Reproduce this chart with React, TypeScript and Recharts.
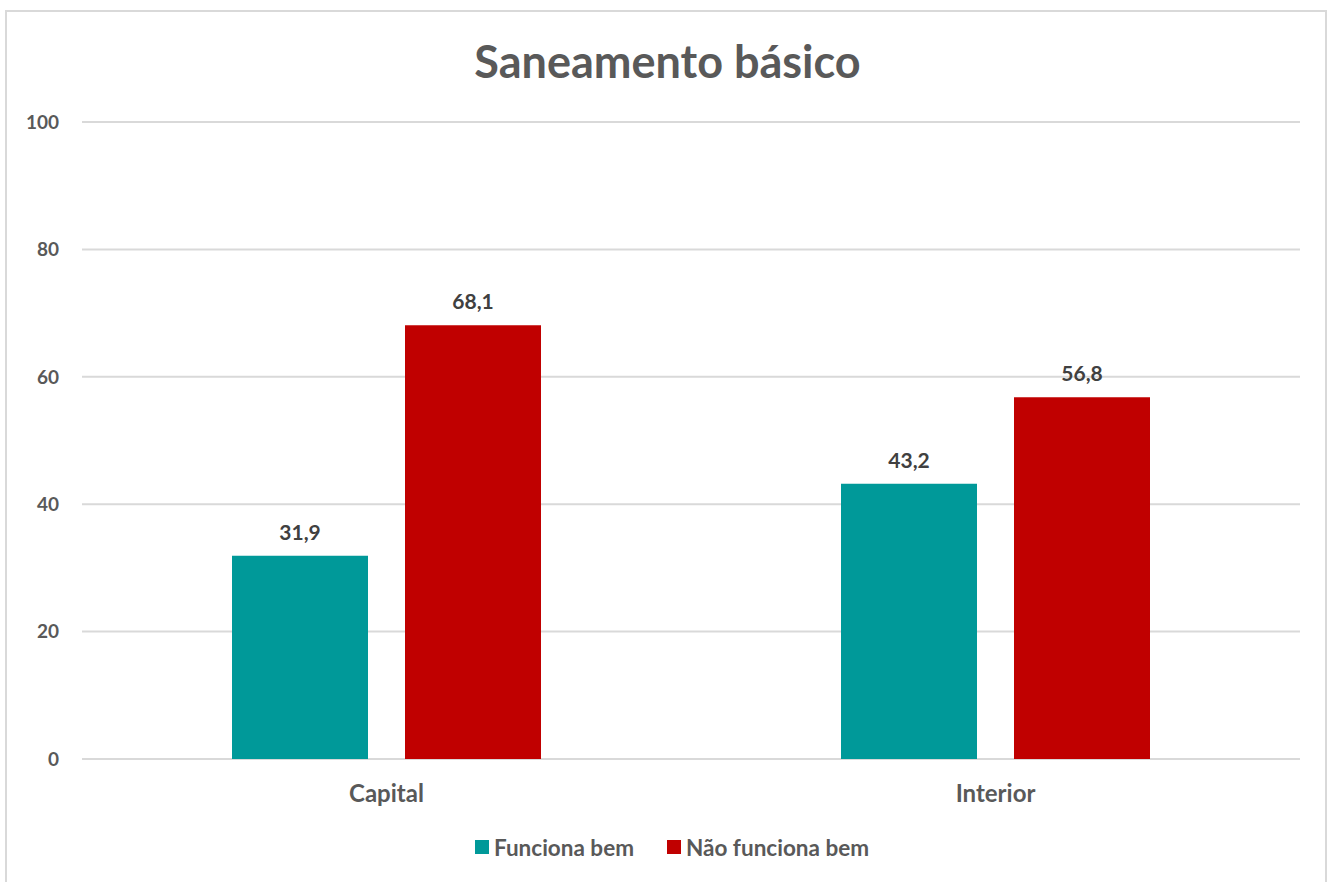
import React from 'react';
import { BarChart, Bar, XAxis, YAxis, CartesianGrid, Legend, LabelList } from 'recharts';

const categories = ['Capital', 'Interior'];
const funcionaBem = [31.9, 43.2];
const naoFuncionaBem = [68.1, 56.8];
const yTicks = [0, 20, 40, 60, 80, 100];
const seriesNames = ['Funciona bem', 'Não funciona bem'];
const seriesColors = ['#009999', '#c00000'];
const title = 'Saneamento básico';

const data = categories.map((c, i) => ({
  name: c,
  bem: funcionaBem[i],
  nao: naoFuncionaBem[i],
}));

const FONT = 'Lato, "Open Sans", sans-serif';
const TEXT = '#595959';
const fmt = (v: any) => Number(v).toFixed(1).replace('.', ',');

const LegendContent = (props: any) => {
  const payload = props.payload || [];
  return (
    <div style={{ display: 'flex', justifyContent: 'center', alignItems: 'center', gap: 33, fontFamily: FONT, fontSize: 22.5, fontWeight: 700, color: TEXT, height: 24 }}>
      {payload.map((p: any) => (
        <div key={p.value} style={{ display: 'flex', alignItems: 'center', gap: 5 }}>
          <span style={{ display: 'inline-block', width: 14, height: 14, background: p.color }} />
          <span>{p.value}</span>
        </div>
      ))}
    </div>
  );
};

export default function App() {
  return (
    <div style={{ position: 'absolute', left: 0, top: 0, width: 1335, height: 882, background: '#fff', overflow: 'hidden', fontFamily: FONT }}>
      <div style={{ position: 'absolute', left: 5, top: 10, width: 1322, height: 900, border: '2px solid #d9d9d9', boxSizing: 'border-box' }} />
      <div style={{ position: 'absolute', left: 0, top: 31, width: 1335, textAlign: 'center', fontSize: 45, fontWeight: 700, color: TEXT, lineHeight: '60px' }}>
        {title}
      </div>
      <div style={{ position: 'absolute', left: 0, top: 0 }}>
        <BarChart
          width={1335}
          height={882}
          data={data}
          margin={{ top: 122, right: 35, bottom: 0, left: 0 }}
          barGap={37}
          barCategoryGap={150}
        >
          <CartesianGrid vertical={false} stroke="#d9d9d9" strokeWidth={2} />
          <XAxis
            dataKey="name"
            axisLine={false}
            tickLine={false}
            height={99}
            tickMargin={20}
            tick={{ fill: TEXT, fontSize: 24, fontWeight: 700, fontFamily: FONT }}
          />
          <YAxis
            domain={[0, 100]}
            ticks={yTicks}
            axisLine={false}
            tickLine={false}
            width={82}
            tickMargin={17}
            tick={{ fill: TEXT, fontSize: 19, fontWeight: 700, fontFamily: FONT }}
          />
          <Legend
            verticalAlign="bottom"
            height={24}
            content={<LegendContent />}
            wrapperStyle={{ bottom: 23, left: 0, width: 1344 }}
          />
          <Bar dataKey="bem" name={seriesNames[0]} fill={seriesColors[0]} isAnimationActive={false}>
            <LabelList dataKey="bem" position="top" offset={16} formatter={fmt} fill="#404040" fontSize={21} fontWeight={700} fontFamily={FONT} />
          </Bar>
          <Bar dataKey="nao" name={seriesNames[1]} fill={seriesColors[1]} isAnimationActive={false}>
            <LabelList dataKey="nao" position="top" offset={16} formatter={fmt} fill="#404040" fontSize={21} fontWeight={700} fontFamily={FONT} />
          </Bar>
        </BarChart>
      </div>
    </div>
  );
}
